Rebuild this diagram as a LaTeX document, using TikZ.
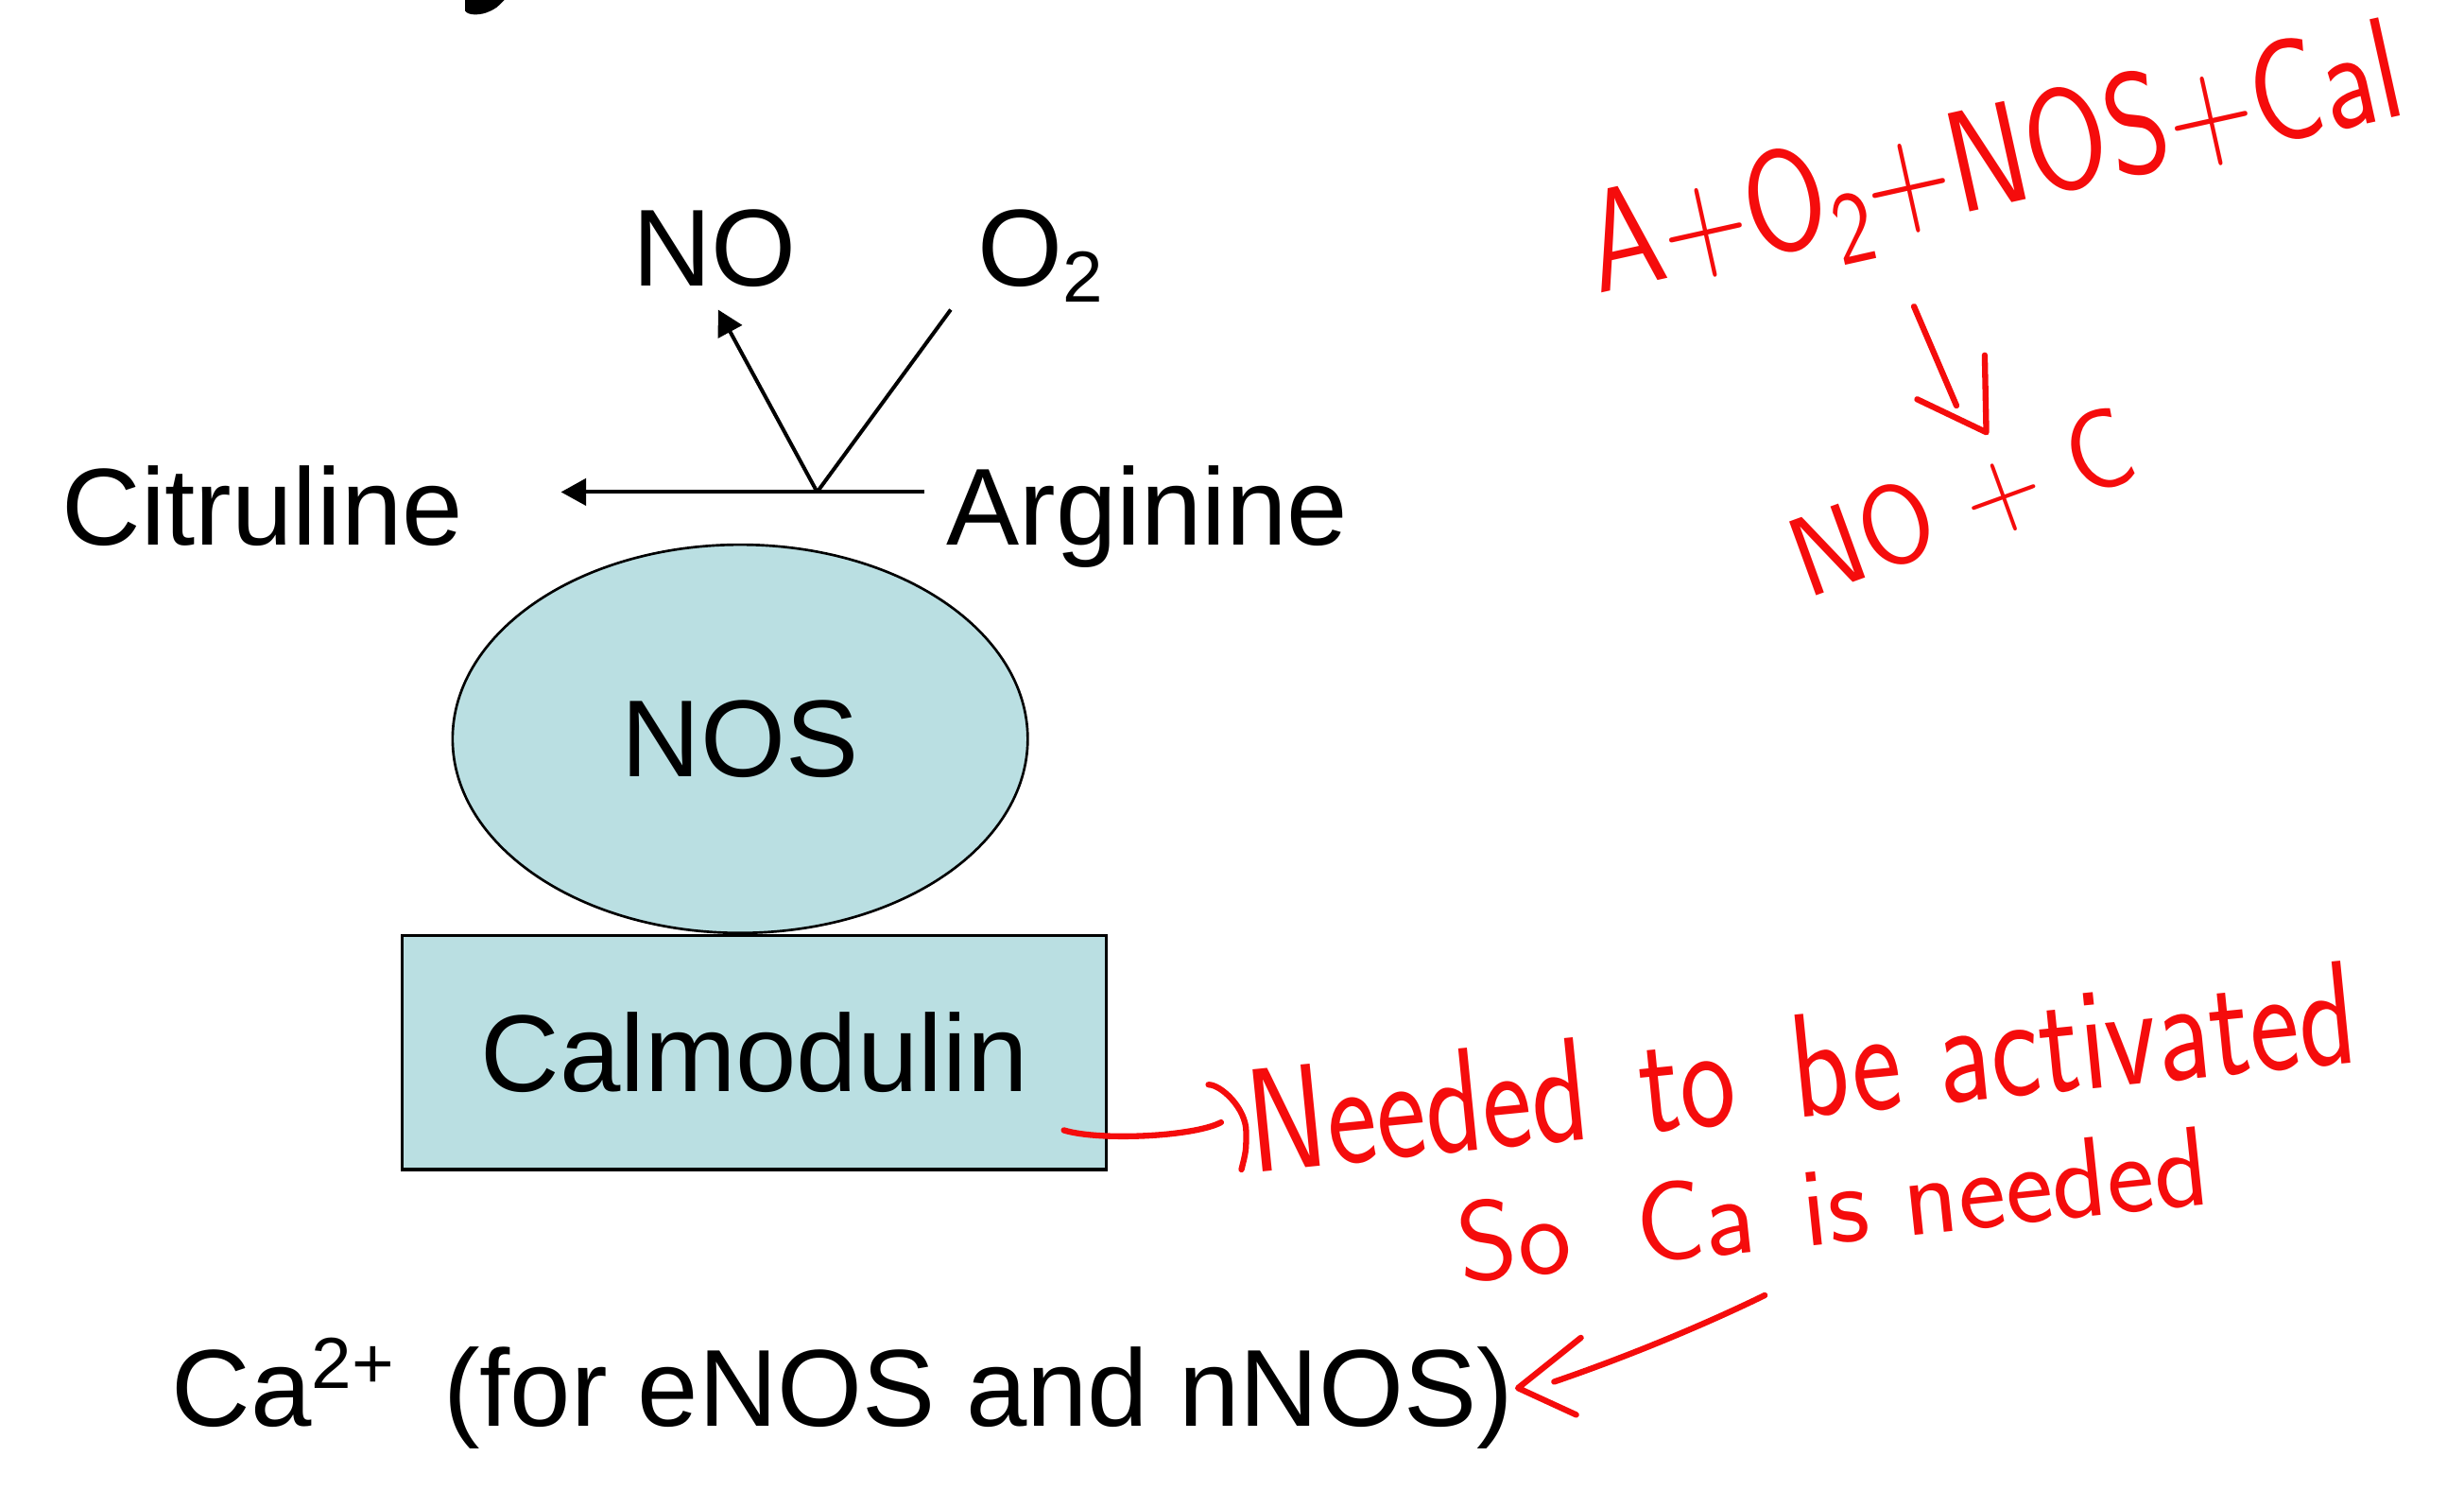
\documentclass[tikz,border=0pt]{standalone}
\usepackage{fontspec}
\setmainfont{Liberation Sans}
\usetikzlibrary{shapes.geometric,arrows.meta}
\definecolor{nosfill}{RGB}{186,223,226}
\definecolor{inkred}{RGB}{245,12,12}
\tikzset{
  lbl/.style={inner sep=0pt, anchor=base west, font=\fontsize{34.8}{40}\selectfont},
  rxn/.style={line width=1.2pt},
  rxnarrow/.style={line width=1.2pt, -{Triangle[length=8pt,width=8.5pt]}},
  note/.style={inner sep=0pt, anchor=base west, text=inkred},
  ink/.style={draw=inkred, line width=1.9pt, line cap=round, line join=round},
}
\newcommand{\hand}[1]{\sffamily\fontsize{#1}{#1}\selectfont\addfontfeature{LetterSpace=6}}
\begin{document}
\begin{tikzpicture}[x=0.5pt,y=-0.5pt]
\useasboundingbox (0,0) rectangle (1568,959);

% cropped fragment of the slide title
\fill (296,0) -- (296,7) .. controls (298,10) and (306,10) .. (312,7) .. controls (316,5) .. (321,0) -- cycle;

% black labels
\node[lbl] (citr) at (39,347) {Citruline};
\node[lbl] (arg) at (602,347) {Arginine};
\node[lbl] (no) at (402,182) {NO};
\node[lbl] (o2) at (622,182) {O\raisebox{-5pt}{\fontsize{23}{23}\selectfont 2}};
\node[lbl] (ca) at (109,907) {Ca\raisebox{12pt}{\fontsize{23}{23}\selectfont 2+}\hspace{6pt} (for eNOS and nNOS)};

% enzyme shapes
\node[ellipse, draw, line width=0.8pt, fill=nosfill, minimum width=183pt, minimum height=123.5pt, inner sep=0pt,
      font=\fontsize{34.8}{40}\selectfont] (nos) at (471,470) {NOS};
\node[rectangle, draw, line width=1pt, fill=nosfill, minimum width=224pt, minimum height=74.5pt, inner sep=0pt,
      font=\fontsize{34.8}{40}\selectfont] (calm) at (480,669.5) {Calmodulin};

% reaction arrows
\coordinate (v) at (520,313);
\coordinate (hstart) at (588,313);
\coordinate (hend) at (357,313);
\coordinate (notip) at (457,197);
\coordinate (o2end) at (605,197);
\draw[rxnarrow] (hstart) -- (hend);
\draw[rxnarrow] (v) -- (notip);
\draw[rxn] (o2end) -- (v);

% handwritten notes
\node[note, rotate=12.5] (eq1) at (1017,187)
  {\scalebox{0.82}[1]{\hand{46}A+O\raisebox{-8pt}{\fontsize{33}{33}\selectfont 2}+NOS+Cal}};
\node[note, rotate=20] (eq2) at (1150,381) {\scalebox{0.95}[1]{\hand{36}NO + C}};
\node[note, rotate=5.7] (n1) at (797,746)
  {\scalebox{0.8}[1]{\hand{47}Needed\hspace{6pt} to\hspace{8pt} be activated}};
\node[note, rotate=6] (n2) at (930,816) {\hand{36}So\hspace{10pt} Ca\hspace{4pt} is needed};

% handwritten arrow of the equation
\coordinate (ea1) at (1218,195);
\coordinate (ea2) at (1245,258);
\coordinate (eh1) at (1220,254);
\coordinate (eh2) at (1264,275);
\coordinate (eh3) at (1263,226);
\draw[ink] (ea1) -- (ea2);
\draw[ink] (eh1) -- (eh2) -- (eh3);

% handwritten connector from Calmodulin
\coordinate (c1) at (677,719);
\coordinate (c2) at (777,714);
\draw[ink] (c1) .. controls (700,726) and (760,723) .. (c2);
\coordinate (b1) at (769,690);
\coordinate (b2) at (790,744);
\draw[ink] (b1) .. controls (777,690) and (793,705) .. (793,720) .. controls (793,732) .. (b2);

% handwritten arrow to Ca2+
\coordinate (k1) at (1123,824);
\coordinate (k2) at (989,879);
\coordinate (kh1) at (1006,851);
\coordinate (kh2) at (966,883);
\coordinate (kh3) at (1003,900);
\draw[ink] (k1) .. controls (1080,845) and (1030,865) .. (k2);
\draw[ink] (kh1) -- (kh2) -- (kh3);
\end{tikzpicture}
\end{document}
